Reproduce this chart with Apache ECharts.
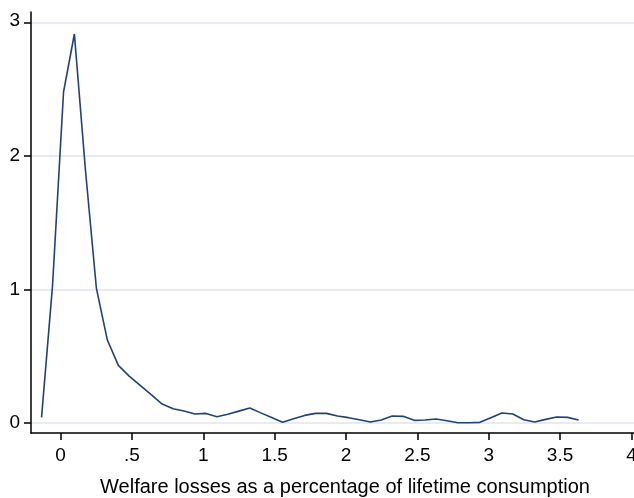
<!DOCTYPE html>
<html>
<head>
<meta charset="utf-8">
<script src="https://cdn.jsdelivr.net/npm/echarts@6/dist/echarts.min.js"></script>
<style>
  html, body { margin: 0; padding: 0; background: #fff; }
  #chart { width: 634px; height: 498px; }
</style>
</head>
<body>
<div id="chart"></div>
<script>
// kernel density estimate
var xs = [-0.133, -0.056, 0.021, 0.097, 0.174, 0.251, 0.328, 0.405, 0.481, 0.558,
          0.635, 0.712, 0.789, 0.865, 0.942, 1.019, 1.096, 1.172, 1.249, 1.326,
          1.403, 1.479, 1.556, 1.633, 1.710, 1.787, 1.863, 1.940, 2.017, 2.094,
          2.171, 2.247, 2.324, 2.401, 2.478, 2.554, 2.631, 2.708, 2.785, 2.862,
          2.938, 3.015, 3.092, 3.169, 3.246, 3.322, 3.399, 3.476, 3.553, 3.630];
var density = [0.04, 1.03, 2.48, 2.915, 1.9, 1.01, 0.62, 0.43, 0.35, 0.28,
               0.21, 0.14, 0.105, 0.088, 0.066, 0.07, 0.045, 0.063, 0.087, 0.11,
               0.074, 0.04, 0.003, 0.03, 0.055, 0.07, 0.07, 0.05, 0.038, 0.022,
               0.005, 0.02, 0.05, 0.048, 0.018, 0.02, 0.028, 0.015, 0.0, 0.0,
               0.003, 0.038, 0.073, 0.065, 0.023, 0.005, 0.025, 0.043, 0.04, 0.02];
var xTicks = [0, 0.5, 1, 1.5, 2, 2.5, 3, 3.5, 4];
var yTicks = [0, 1, 2, 3];
var xTitle = 'Welfare losses as a percentage of lifetime consumption';

var points = xs.map(function (x, i) { return [x, density[i]]; });
var font = '"Liberation Sans", Arial, sans-serif';

var chart = echarts.init(document.getElementById('chart'));
var option = {
    animation: false,
    grid: { left: 31, right: 0, top: 12, bottom: 65, outerBoundsMode: 'none' },
    xAxis: {
        type: 'value',
        min: -0.207,
        max: 4.018,
        name: xTitle,
        nameLocation: 'middle',
        nameGap: 44,
        nameTextStyle: { fontFamily: font, fontSize: 20, color: '#000', padding: [0, 0, 0, 25] },
        axisLine: { onZero: false, lineStyle: { color: '#000', width: 1.5 } },
        axisTick: { customValues: xTicks, length: 7, lineStyle: { color: '#000', width: 1.5 } },
        axisLabel: {
            customValues: xTicks,
            margin: 13,
            fontFamily: font, fontSize: 19, color: '#000',
            formatter: function (v) { return String(v).replace(/^0\./, '.'); }
        },
        splitLine: { show: false }
    },
    yAxis: {
        type: 'value',
        min: -0.077,
        max: 3.08,
        axisLine: { show: true, onZero: false, lineStyle: { color: '#000', width: 1.5 } },
        axisTick: { show: true, customValues: yTicks, length: 7, lineStyle: { color: '#000', width: 1.5 } },
        axisLabel: {
            customValues: yTicks, margin: 11, fontFamily: font, fontSize: 19, color: '#000',
            // top label sits a little above its tick, as in the original
            formatter: function (v) { return v === 3 ? '{top|' + v + '}' : String(v); },
            rich: { top: { fontFamily: font, fontSize: 19, color: '#000', padding: [0, 0, 4, 0] } }
        },
        splitLine: { show: true, lineStyle: { color: '#dfe5ef', width: 1.5 } }
    },
    series: [{
        type: 'line',
        data: points,
        showSymbol: false,
        lineStyle: { color: '#22407a', width: 1.6 }
    }]
};
chart.setOption(option);
</script>
</body>
</html>
